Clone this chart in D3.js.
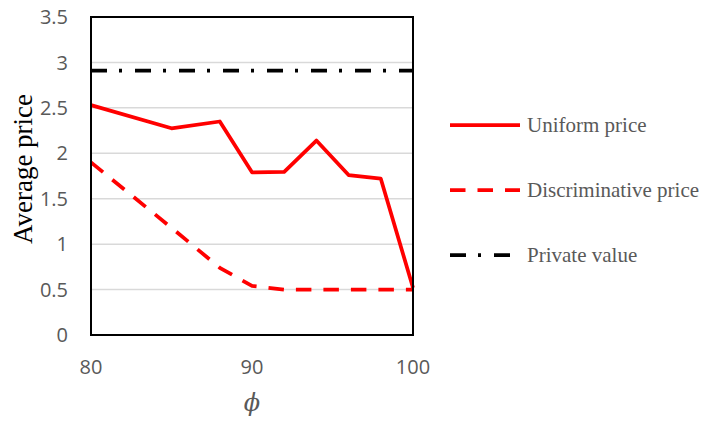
<!DOCTYPE html>
<html>
<head>
<meta charset="utf-8">
<script src="https://cdn.jsdelivr.net/npm/d3@7"></script>
<style>
  html, body { margin: 0; padding: 0; background: #fff; }
  svg { display: block; }
</style>
</head>
<body>
<svg id="chart" width="705" height="423"></svg>
<script>
// ---- data ----
const phiValues = [80, 85, 88, 90, 92, 94, 96, 98, 100];
const uniformPrice = [2.53, 2.275, 2.35, 1.79, 1.795, 2.14, 1.76, 1.72, 0.52];
const discriminativePrice = [1.90, 1.18, 0.74, 0.54, 0.50, 0.50, 0.50, 0.50, 0.50];
const privateValue = [2.91, 2.91];
const privateX = [80, 100];
const xTicks = [80, 90, 100];
const yTicks = [0, 0.5, 1, 1.5, 2, 2.5, 3, 3.5];
const seriesNames = ["Uniform price", "Discriminative price", "Private value"];
const xTitle = "\u03D5";
const yTitle = "Average price";

// ---- layout ----
const svg = d3.select("#chart");
const x = d3.scaleLinear().domain([80, 100]).range([91, 413]);
const y = d3.scaleLinear().domain([0, 3.5]).range([335, 17]);

const gray = "#595959";

// gridlines
svg.append("g")
  .selectAll("line")
  .data(yTicks.filter(d => d > 0 && d < 3.5))
  .join("line")
  .attr("x1", x(80)).attr("x2", x(100))
  .attr("y1", d => y(d)).attr("y2", d => y(d))
  .attr("stroke", "#d9d9d9").attr("stroke-width", 1.5);

// y tick labels
svg.append("g")
  .selectAll("text")
  .data(yTicks)
  .join("text")
  .attr("x", 68)
  .attr("y", d => y(d))
  .attr("dy", "0.36em")
  .attr("text-anchor", "end")
  .attr("font-family", "'Open Sans', sans-serif")
  .attr("font-size", 20)
  .attr("fill", gray)
  .text(d => d);

// x tick labels
svg.append("g")
  .selectAll("text")
  .data(xTicks)
  .join("text")
  .attr("x", d => x(d))
  .attr("y", 374)
  .attr("text-anchor", "middle")
  .attr("font-family", "'Open Sans', sans-serif")
  .attr("font-size", 20)
  .attr("fill", gray)
  .text(d => d);

// axis titles
svg.append("text")
  .attr("transform", "translate(32,169) rotate(-90)")
  .attr("text-anchor", "middle")
  .attr("font-family", "'Liberation Serif', 'Times New Roman', serif")
  .attr("font-size", 27)
  .attr("fill", "#000")
  .text(yTitle);

svg.append("text")
  .attr("x", 252)
  .attr("y", 411)
  .attr("text-anchor", "middle")
  .attr("font-family", "'DejaVu Serif', serif")
  .attr("font-style", "italic")
  .attr("font-size", 24)
  .attr("fill", gray)
  .text(xTitle);

// lines
const line = d3.line().x(d => x(d[0])).y(d => y(d[1]));

const clip = svg.append("clipPath").attr("id", "plotclip")
  .append("rect").attr("x", x(80)).attr("y", y(3.5)).attr("width", x(100) - x(80)).attr("height", y(0) - y(3.5));

svg.append("path")
  .datum(privateX.map((v, i) => [v, privateValue[i]]))
  .attr("d", line)
  .attr("fill", "none")
  .attr("stroke", "#000")
  .attr("stroke-width", 3.75)
  .attr("stroke-dasharray", "16,12,3,13");

svg.append("path")
  .datum(phiValues.map((v, i) => [v, discriminativePrice[i]]))
  .attr("d", line)
  .attr("fill", "none")
  .attr("stroke", "#ff0000")
  .attr("stroke-width", 3.75)
  .attr("stroke-linejoin", "round")
  .attr("stroke-dasharray", "15.5,12");

svg.append("path")
  .datum(phiValues.map((v, i) => [v, uniformPrice[i]]))
  .attr("d", line)
  .attr("fill", "none")
  .attr("stroke", "#ff0000")
  .attr("stroke-width", 3.75)
  .attr("stroke-linejoin", "round");

// plot border
svg.append("rect")
  .attr("x", x(80)).attr("y", y(3.5))
  .attr("width", x(100) - x(80)).attr("height", y(0) - y(3.5))
  .attr("fill", "none").attr("stroke", "#000").attr("stroke-width", 2);

// legend
const legendStyles = [
  { color: "#ff0000", dash: null },
  { color: "#ff0000", dash: "15.5,12" },
  { color: "#000", dash: "16,12,3,13" }
];
const legend = svg.append("g")
  .selectAll("g")
  .data(seriesNames)
  .join("g")
  .attr("transform", (d, i) => `translate(0,${125 + i * 65})`);

legend.append("line")
  .attr("x1", 450).attr("x2", 520)
  .attr("y1", 0).attr("y2", 0)
  .attr("stroke", (d, i) => legendStyles[i].color)
  .attr("stroke-width", 3.75)
  .attr("stroke-dasharray", (d, i) => legendStyles[i].dash);

legend.append("text")
  .attr("x", 527)
  .attr("y", 7)
  .attr("font-family", "'Liberation Serif', 'Times New Roman', serif")
  .attr("font-size", 21)
  .attr("fill", gray)
  .text(d => d);
</script>
</body>
</html>
